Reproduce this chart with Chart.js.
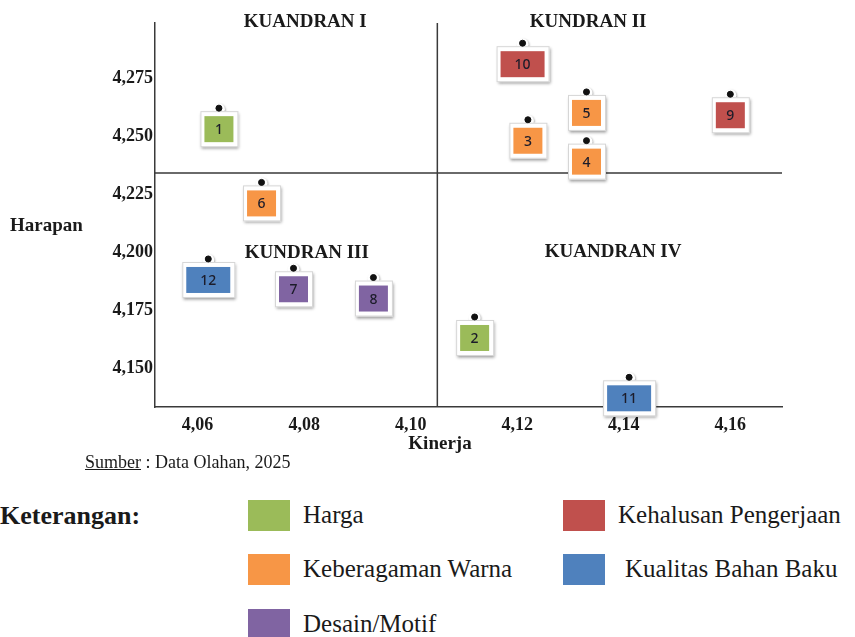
<!DOCTYPE html>
<html>
<head>
<meta charset="utf-8">
<script src="https://cdn.jsdelivr.net/npm/chart.js@4/dist/chart.umd.min.js"></script>
<style>
body { margin: 0; background: #fff; }
#wrap { position: relative; width: 855px; height: 637px; overflow: hidden; font-family: "Liberation Serif", "Times New Roman", serif; color: #1a1a1a; }
#chartBox { position: absolute; left: 0; top: 0; width: 855px; height: 470px; }
.src { position: absolute; left: 85px; top: 452px; font-size: 18px; }
.src u { text-decoration: underline; }
.ket { position: absolute; left: 0; top: 500px; font-size: 26px; font-weight: bold; line-height: 32px; }
.sw { position: absolute; width: 42px; height: 31px; }
.lb { position: absolute; font-size: 25px; line-height: 31px; white-space: nowrap; }
</style>
</head>
<body>
<div id="wrap">
  <div id="chartBox"><canvas id="myChart"></canvas></div>
  <div class="src"><u>Sumber</u> : Data Olahan, 2025</div>
  <div class="ket">Keterangan:</div>
  <div id="legend"></div>
</div>
<script>
// Data
const itemNo = [1, 2, 3, 4, 5, 6, 7, 8, 9, 10, 11, 12];
const kinerja = [4.064, 4.112, 4.122, 4.133, 4.133, 4.072, 4.078, 4.093, 4.160, 4.121, 4.141, 4.062];
const harapan = [4.262, 4.172, 4.257, 4.248, 4.269, 4.230, 4.193, 4.189, 4.268, 4.290, 4.146, 4.197];
const itemGroup = [0, 0, 1, 1, 1, 1, 2, 2, 3, 3, 4, 4];
const groups = ['Harga', 'Keberagaman Warna', 'Desain/Motif', 'Kehalusan Pengerjaan', 'Kualitas Bahan Baku'];
const xTicks = [4.06, 4.08, 4.10, 4.12, 4.14, 4.16];
const yTicks = [4.150, 4.175, 4.200, 4.225, 4.250, 4.275];
const kinerjaMid = 4.105;
const harapanMid = 4.234;
const quadNames = ['KUANDRAN I', 'KUNDRAN II', 'KUNDRAN III', 'KUANDRAN IV'];

// styles
const groupColors = ['#9BBB59', '#F79646', '#8064A2', '#C0504D', '#4F81BD'];
const quadPos = [[4.0802, 4.2990], [4.1333, 4.2990], [4.0805, 4.1995], [4.1380, 4.2000]];

//Build legend
var legendHtml = '';
var legendPos = [[248, 500], [248, 554], [248, 609], [563, 500], [563, 554]];
groups.forEach(function (g, i) {
    var p = legendPos[i];
    legendHtml += '<div class="sw" style="left:' + p[0] + 'px;top:' + p[1] + 'px;background:' + groupColors[i] + '"></div>';
    legendHtml += '<div class="lb" style="left:' + (p[0] + 55 + (i == 4 ? 7 : 0)) + 'px;top:' + (p[1] - 1) + 'px">' + g + '</div>';
});
document.getElementById('legend').innerHTML = legendHtml;

//Datasets, one per group
var datasets = groups.map(function (g, gi) {
    var pts = [];
    itemNo.forEach(function (n, i) {
        if (itemGroup[i] == gi) pts.push({ x: kinerja[i], y: harapan[i], no: n });
    });
    return { label: g, data: pts, backgroundColor: '#111', borderColor: '#111', pointRadius: 3, pointHoverRadius: 3 };
});

const serif = '"Liberation Serif", "Times New Roman", serif';

const quadPlugin = {
    id: 'quad',
    beforeDatasetsDraw(chart) {
        const ctx = chart.ctx, a = chart.chartArea;
        const xs = chart.scales.x, ys = chart.scales.y;
        ctx.save();
        ctx.strokeStyle = '#3a3a3a';
        ctx.lineWidth = 1.5;
        var vx = xs.getPixelForValue(kinerjaMid), hy = ys.getPixelForValue(harapanMid);
        ctx.beginPath();
        ctx.moveTo(vx, a.top); ctx.lineTo(vx, a.bottom);
        ctx.moveTo(a.left, hy); ctx.lineTo(a.right, hy);
        ctx.stroke();
        // boxes under each point
        chart.data.datasets.forEach(function (ds, di) {
            chart.getDatasetMeta(di).data.forEach(function (el, j) {
                var no = ds.data[j].no;
                var w = no >= 10 ? 44 : 29, h = 26;
                var bx = el.x - w / 2, by = el.y + 8;
                ctx.save();
                // tab halo
                ctx.shadowColor = 'rgba(0,0,0,0.3)'; ctx.shadowBlur = 2; ctx.shadowOffsetX = 1; ctx.shadowOffsetY = 1;
                ctx.fillStyle = '#fff';
                ctx.beginPath(); ctx.arc(el.x, el.y + 1, 6, 0, Math.PI * 2); ctx.fill();
                // frame
                ctx.shadowColor = 'rgba(0,0,0,0.4)'; ctx.shadowBlur = 3; ctx.shadowOffsetX = 1; ctx.shadowOffsetY = 2;
                ctx.fillRect(bx - 4, by - 5, w + 9, h + 10);
                ctx.restore();
                ctx.strokeStyle = '#d6d6d6';
                ctx.lineWidth = 1;
                ctx.strokeRect(bx - 3.5, by - 4.5, w + 8, h + 9);
                ctx.fillStyle = groupColors[di];
                ctx.fillRect(bx, by, w, h);
                ctx.fillStyle = '#1c1c2a';
                ctx.font = '500 14px "Noto Sans", "Open Sans", sans-serif';
                ctx.textAlign = 'center';
                ctx.textBaseline = 'middle';
                ctx.fillText(String(no), el.x, by + h / 2 + 1);
            });
        });
        ctx.restore();
    },
    afterDraw(chart) {
        const ctx = chart.ctx;
        const xs = chart.scales.x, ys = chart.scales.y;
        ctx.save();
        ctx.fillStyle = '#1a1a1a';
        ctx.font = 'bold 19px ' + serif;
        ctx.textAlign = 'center';
        ctx.textBaseline = 'middle';
        quadNames.forEach(function (q, i) {
            ctx.fillText(q, xs.getPixelForValue(quadPos[i][0]), ys.getPixelForValue(quadPos[i][1]));
        });
        // axis titles
        ctx.textAlign = 'left';
        ctx.fillText('Harapan', 10, 226);
        ctx.textAlign = 'center';
        ctx.fillText('Kinerja', 440, 444);
        ctx.restore();
    }
};

const ctx = document.getElementById('myChart');
const myChart = new Chart(ctx, {
    type: 'scatter',
    data: { datasets: datasets },
    plugins: [quadPlugin],
    options: {
        responsive: true,
        maintainAspectRatio: false,
        animation: false,
        layout: { padding: { top: 23, right: 73, left: 0, bottom: 23 } },
        plugins: { legend: { display: false }, tooltip: { enabled: false } },
        scales: {
            x: {
                type: 'linear',
                min: 4.052,
                max: 4.1697,
                afterBuildTicks: function (s) { s.ticks = xTicks.map(function (v) { return { value: v }; }); },
                afterFit: function (s) { s.height = 40; },
                grid: { display: false, drawTicks: false },
                border: { display: true, color: '#3a3a3a', width: 1.5 },
                ticks: {
                    padding: 8,
                    color: '#1a1a1a',
                    font: { family: serif, size: 18, weight: 'bold' },
                    callback: function (v) { return v.toFixed(2).replace('.', ','); }
                }
            },
            y: {
                type: 'linear',
                min: 4.1332,
                max: 4.2987,
                afterBuildTicks: function (s) { s.ticks = yTicks.map(function (v) { return { value: v }; }); },
                afterFit: function (s) { s.width = 155; },
                grid: { display: false, drawTicks: false },
                border: { display: true, color: '#3a3a3a', width: 1.5 },
                ticks: {
                    padding: 2,
                    color: '#1a1a1a',
                    font: { family: serif, size: 18, weight: 'bold' },
                    callback: function (v) { return v.toFixed(3).replace('.', ','); }
                }
            }
        }
    }
});
</script>
</body>
</html>
